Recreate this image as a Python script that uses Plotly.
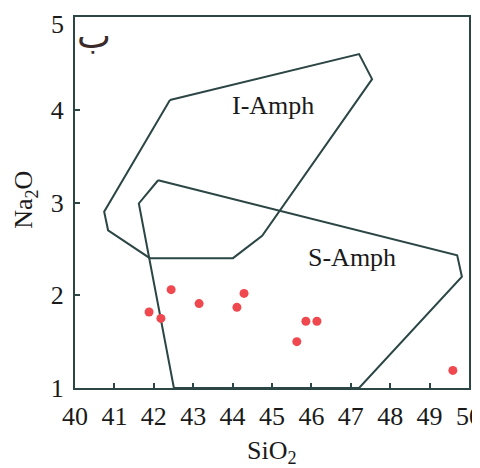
import plotly.graph_objects as go

# I-Amph field boundary
i_amph_x = [42.41, 47.21, 47.54, 44.75, 44.01, 41.90, 40.84, 40.74, 42.41]
i_amph_y = [4.105, 4.60, 4.33, 2.64, 2.40, 2.40, 2.70, 2.90, 4.105]

# S-Amph field boundary
s_amph_x = [42.11, 49.70, 49.82, 47.21, 42.51, 41.62, 42.11]
s_amph_y = [3.24, 2.43, 2.20, 1.0, 1.0, 2.99, 3.24]

# samples
sio2 = [41.88, 42.18, 42.44, 43.15, 44.11, 44.29, 45.86, 46.14, 45.63, 49.59]
na2o = [1.82, 1.75, 2.06, 1.91, 1.87, 2.02, 1.72, 1.72, 1.50, 1.19]

x_ticks = [40, 41, 42, 43, 44, 45, 46, 47, 48, 49, 50]
y_ticks = [1, 2, 3, 4, 5]
y_tick_labels = ["1", "2", "3", "4", "5"]

line_col = "#2b4644"
serif = "Liberation Serif"
tick_font = dict(family=serif, size=26, color="#1a1a1a")

fig = go.Figure()
fig.add_trace(go.Scatter(x=i_amph_x, y=i_amph_y, mode="lines",
                         line=dict(color=line_col, width=2), hoverinfo="skip"))
fig.add_trace(go.Scatter(x=s_amph_x, y=s_amph_y, mode="lines",
                         line=dict(color=line_col, width=2), hoverinfo="skip"))
fig.add_trace(go.Scatter(x=sio2, y=na2o, mode="markers",
                         marker=dict(color="#f0484f", size=9, line=dict(width=0))))

fig.add_annotation(x=45.03, y=4.05, text="I-Amph", showarrow=False,
                   font=dict(family=serif, size=26, color="#1a1a1a"))
fig.add_annotation(x=47.03, y=2.41, text="S-Amph", showarrow=False,
                   font=dict(family=serif, size=26, color="#1a1a1a"))
fig.add_annotation(x=40.47, y=4.80, text="ب", showarrow=False,
                   font=dict(family="DejaVu Sans", size=36, color="#3a2a2a"))
fig.add_annotation(xref="paper", yref="paper", x=-0.127, y=0.507, text="Na<sub>2</sub>O",
                   textangle=-90, showarrow=False, xanchor="center", yanchor="middle",
                   font=dict(family=serif, size=26, color="#1a1a1a"))
fig.add_annotation(xref="paper", yref="paper", x=0.5, y=-0.172, text="SiO<sub>2</sub>",
                   showarrow=False, xanchor="center", yanchor="middle",
                   font=dict(family=serif, size=26, color="#1a1a1a"))
# top y tick label sits slightly below its tick (as in the reference)
fig.add_annotation(xref="paper", yref="y", x=0, y=y_ticks[-1], text=y_tick_labels[-1],
                   showarrow=False, xanchor="right", yanchor="middle",
                   xshift=-9, yshift=-7, font=tick_font)

axis_common = dict(showgrid=False, zeroline=False, showline=True, linecolor=line_col,
                   linewidth=2, mirror=True, ticks="inside", ticklen=5, tickwidth=2,
                   tickcolor=line_col, automargin=False, ticklabeloverflow="allow",
                   tickfont=tick_font)

# page body adds an 8px offset, so the figure is sized/margined to compensate
fig.update_layout(
    width=472, height=460,
    margin=dict(l=67, r=11, t=9, b=80),
    paper_bgcolor="white", plot_bgcolor="white",
    showlegend=False,
    xaxis=dict(range=[40, 50], tickvals=x_ticks, ticklabelstandoff=4, **axis_common),
    yaxis=dict(range=[1, 5], tickvals=y_ticks,
               ticktext=y_tick_labels[:-1] + [""], ticklabelstandoff=4, **axis_common),
)

fig.write_html("out.html")
